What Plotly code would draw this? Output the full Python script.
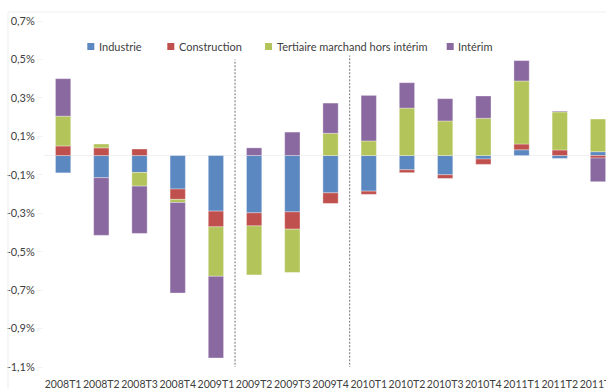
import plotly.graph_objects as go

# ---- data (values in %) ----
categories = ["2008T1", "2008T2", "2008T3", "2008T4", "2009T1", "2009T2", "2009T3", "2009T4",
              "2010T1", "2010T2", "2010T3", "2010T4", "2011T1", "2011T2", "2011T3"]
industrie = [-0.09, -0.115, -0.088, -0.174, -0.289, -0.298, -0.293, -0.194,
             -0.185, -0.074, -0.10, -0.018, 0.03, -0.015, 0.02]
construction = [0.05, 0.04, 0.034, -0.054, -0.082, -0.068, -0.09, -0.055,
                -0.017, -0.015, -0.019, -0.028, 0.03, 0.029, -0.013]
tertiaire = [0.155, 0.02, -0.071, -0.016, -0.257, -0.255, -0.225, 0.116,
             0.076, 0.247, 0.18, 0.194, 0.328, 0.198, 0.17]
interim = [0.195, -0.30, -0.246, -0.471, -0.425, 0.04, 0.122, 0.157,
           0.237, 0.132, 0.116, 0.116, 0.106, 0.004, -0.123]
series_names = ["Industrie", "Construction", "Tertiaire marchand hors intérim", "Intérim"]
y_ticks = [0.7, 0.5, 0.3, 0.1, -0.1, -0.3, -0.5, -0.7, -0.9, -1.1]
separator_positions = [4.5, 7.5]          # between 2009T1/2009T2 and 2009T4/2010T1
separator_tops = [0.50, 0.52]             # %
separator_bottom = -1.107                 # %

# ---- style ----
colors = ["#5b88c0", "#c0504d", "#b3c45a", "#8a68a0"]
W, H = 606, 389
L, R, T, B = 44, 0, 21, 22
FONT = "Lato"
TXT = "#404040"


def xp(px):
    return (px - L) / (W - L - R)


def yp(py):
    return (H - B - py) / (H - T - B)


fig = go.Figure()
for name, vals, col in zip(series_names, [industrie, construction, tertiaire, interim], colors):
    fig.add_trace(go.Bar(
        x=categories, y=[v / 100 for v in vals], name=name,
        marker=dict(color=col, line=dict(color="rgba(255,255,255,0.55)", width=0.6)),
        showlegend=False,
    ))

shapes = []
for xs, top in zip(separator_positions, separator_tops):
    shapes.append(dict(type="line", xref="x", yref="y", x0=xs, x1=xs,
                       y0=separator_bottom / 100, y1=top / 100,
                       line=dict(color="#8a8a8a", width=1.2, dash="2px,1.5px")))
# chart-area border remnants (top and left)
shapes.append(dict(type="line", xref="paper", yref="paper", x0=xp(8), x1=xp(606),
                   y0=yp(12), y1=yp(12), line=dict(color="#efefef", width=1)))
shapes.append(dict(type="line", xref="paper", yref="paper", x0=xp(8), x1=xp(8),
                   y0=yp(12), y1=yp(389), line=dict(color="#efefef", width=1)))

# custom legend
legend_sq_left = [87.3, 167.3, 265.0, 446.7]
annotations = []
for name, col, sx in zip(series_names, colors, legend_sq_left):
    shapes.append(dict(type="rect", xref="paper", yref="paper",
                       x0=xp(sx), x1=xp(sx + 7), y0=yp(50), y1=yp(43),
                       fillcolor=col, line=dict(width=0)))
    annotations.append(dict(xref="paper", yref="paper", x=xp(sx + 9.5), y=yp(46.7),
                            xanchor="left", yanchor="middle", showarrow=False,
                            text=name, font=dict(family=FONT, size=11, color=TXT)))

fig.update_layout(
    width=W, height=H,
    margin=dict(l=L, r=R, t=T, b=B, pad=0, autoexpand=False),
    barmode="relative", bargap=0.6,
    plot_bgcolor="white", paper_bgcolor="white",
    font=dict(family=FONT, size=11, color=TXT),
    shapes=shapes, annotations=annotations,
    xaxis=dict(range=[-0.5, 14.21], showgrid=False, showline=False, ticks="",
               tickangle=0, automargin=False, ticklabelstandoff=9,
               tickfont=dict(family=FONT, size=10.5, color=TXT), fixedrange=True),
    yaxis=dict(range=[-0.011, 0.007], showgrid=False, showline=False, automargin=False,
               zeroline=True, zerolinecolor="#f1f1f1", zerolinewidth=1,
               tickvals=[v / 100 for v in y_ticks],
               ticktext=[(f"{v:.1f}%").replace(".", ",") for v in y_ticks],
               ticks="outside", ticklen=6, tickcolor="#f2f2f2",
               tickfont=dict(family=FONT, size=11, color=TXT), fixedrange=True),
)

fig.write_html("out.html")
